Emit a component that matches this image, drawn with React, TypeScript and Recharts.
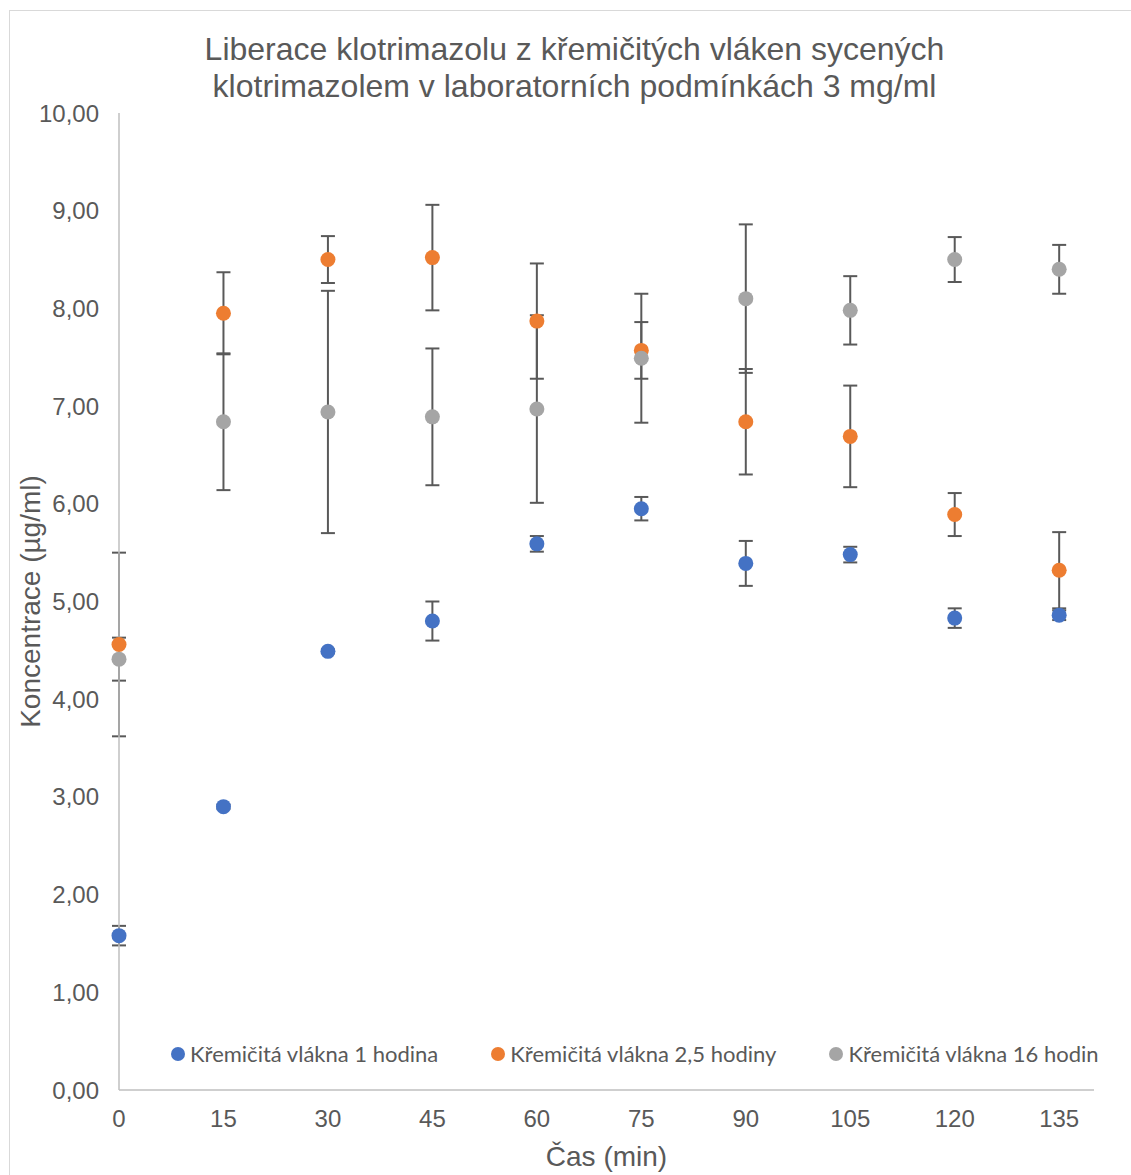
import React from 'react';
import { ScatterChart, Scatter, XAxis, YAxis, ErrorBar } from 'recharts';

// sampling times (min)
const times = [0, 15, 30, 45, 60, 75, 90, 105, 120, 135];

// mean concentration (µg/ml) and SD per fibre saturation time
const fibres1h = [1.58, 2.9, 4.49, 4.8, 5.59, 5.95, 5.39, 5.48, 4.83, 4.86];
const fibres1hSd = [0.1, 0.02, 0.02, 0.2, 0.08, 0.12, 0.23, 0.08, 0.1, 0.05];

const fibres25h = [4.56, 7.95, 8.5, 8.52, 7.87, 7.57, 6.84, 6.69, 5.89, 5.32];
const fibres25hSd = [0.94, 0.42, 0.24, 0.54, 0.59, 0.29, 0.54, 0.52, 0.22, 0.39];

const fibres16h = [4.41, 6.84, 6.94, 6.89, 6.97, 7.49, 8.1, 7.98, 8.5, 8.4];
const fibres16hSd = [0.22, 0.7, 1.24, 0.7, 0.96, 0.66, 0.76, 0.35, 0.23, 0.25];

const seriesNames = [
  'Křemičitá vlákna 1 hodina',
  'Křemičitá vlákna 2,5 hodiny',
  'Křemičitá vlákna 16 hodin',
];
const seriesColors = ['#4472C4', '#ED7D31', '#A5A5A5'];

const xTicks = [0, 15, 30, 45, 60, 75, 90, 105, 120, 135];
const yTicks = [0, 1, 2, 3, 4, 5, 6, 7, 8, 9, 10];

const build = (vals: number[], sd: number[]) =>
  times.map((t, i) => ({ x: t, y: vals[i], err: sd[i] }));

const series = [
  build(fibres1h, fibres1hSd),
  build(fibres25h, fibres25hSd),
  build(fibres16h, fibres16hSd),
];

const TEXT = '#595959';
const AXIS = '#BFBFBF';
const ARIAL = '"Liberation Sans", Arial, sans-serif';

const fmtY = (v: number) => v.toFixed(2).replace('.', ',');

const Dot = (color: string) => (p: any) => (
  <circle cx={p.cx} cy={p.cy} r={7.5} fill={color} />
);

const Empty = () => <g />;

// legend sits inside the plot area, above the x axis
const LegendRow = () => (
  <div
    style={{
      position: 'absolute',
      left: 171,
      top: 1040,
      display: 'flex',
      alignItems: 'center',
      fontFamily: 'Lato, sans-serif',
      fontSize: 22,
      lineHeight: '28px',
      color: TEXT,
      whiteSpace: 'nowrap',
    }}
  >
    {seriesNames.map((name, i) => (
      <div key={name} style={{ display: 'flex', alignItems: 'center', marginRight: i < 2 ? 53 : 0 }}>
        <span style={{ width: 14, height: 14, borderRadius: 7, background: seriesColors[i], display: 'inline-block', marginRight: 5 }} />
        <span>{name}</span>
      </div>
    ))}
  </div>
);

export default function App() {
  return (
    <div style={{ position: 'absolute', left: 0, top: 0, width: 1131, height: 1175, background: '#fff', overflow: 'hidden' }}>
      <div style={{ position: 'absolute', left: 9, top: 10, width: 1200, height: 1200, border: '1px solid #D9D9D9' }} />
      <div
        style={{
          position: 'absolute',
          left: 9,
          width: 1131,
          top: 31,
          textAlign: 'center',
          fontFamily: ARIAL,
          fontSize: 32,
          lineHeight: '37px',
          color: TEXT,
        }}
      >
        Liberace klotrimazolu z křemičitých vláken sycených
        <br />
        klotrimazolem v laboratorních podmínkách 3 mg/ml
      </div>
      <ScatterChart
        width={1131}
        height={1175}
        margin={{ top: 113, right: 37, bottom: 0, left: 0 }}
        style={{ position: 'absolute', left: 0, top: 0 }}
      >
        <XAxis
          type="number"
          dataKey="x"
          domain={[0, 140]}
          ticks={xTicks}
          interval={0}
          height={85}
          tickLine={false}
          tickSize={0}
          tickMargin={20}
          axisLine={{ stroke: AXIS, strokeWidth: 1.5 }}
          tick={{ fill: TEXT, fontSize: 24, fontFamily: ARIAL }}
          label={{ value: 'Čas (min)', position: 'insideBottom', offset: 9, fill: TEXT, fontSize: 28, fontFamily: ARIAL }}
        />
        <YAxis
          type="number"
          dataKey="y"
          domain={[0, 10]}
          ticks={yTicks}
          interval={0}
          width={119}
          tickLine={false}
          tickSize={0}
          tickMargin={20}
          tickFormatter={fmtY}
          axisLine={{ stroke: AXIS, strokeWidth: 1.5 }}
          tick={{ fill: TEXT, fontSize: 24, fontFamily: ARIAL }}
          label={{
            value: 'Koncentrace (µg/ml)',
            angle: -90,
            position: 'insideLeft',
            offset: 30,
            fill: TEXT,
            fontSize: 28,
            fontFamily: ARIAL,
            style: { textAnchor: 'middle' },
          }}
        />
        {/* error bars first so every marker sits on top of them */}
        {series.map((data, i) => (
          <Scatter
            key={`err-${i}`}
            data={data}
            shape={Empty}
            legendType="none"
            isAnimationActive={false}
          >
            <ErrorBar dataKey="err" direction="y" width={7} stroke={TEXT} strokeWidth={2} isAnimationActive={false} />
          </Scatter>
        ))}
        {series.map((data, i) => (
          <Scatter
            key={`pts-${i}`}
            name={seriesNames[i]}
            data={data}
            fill={seriesColors[i]}
            shape={Dot(seriesColors[i])}
            isAnimationActive={false}
          />
        ))}
      </ScatterChart>
      <LegendRow />
    </div>
  );
}
